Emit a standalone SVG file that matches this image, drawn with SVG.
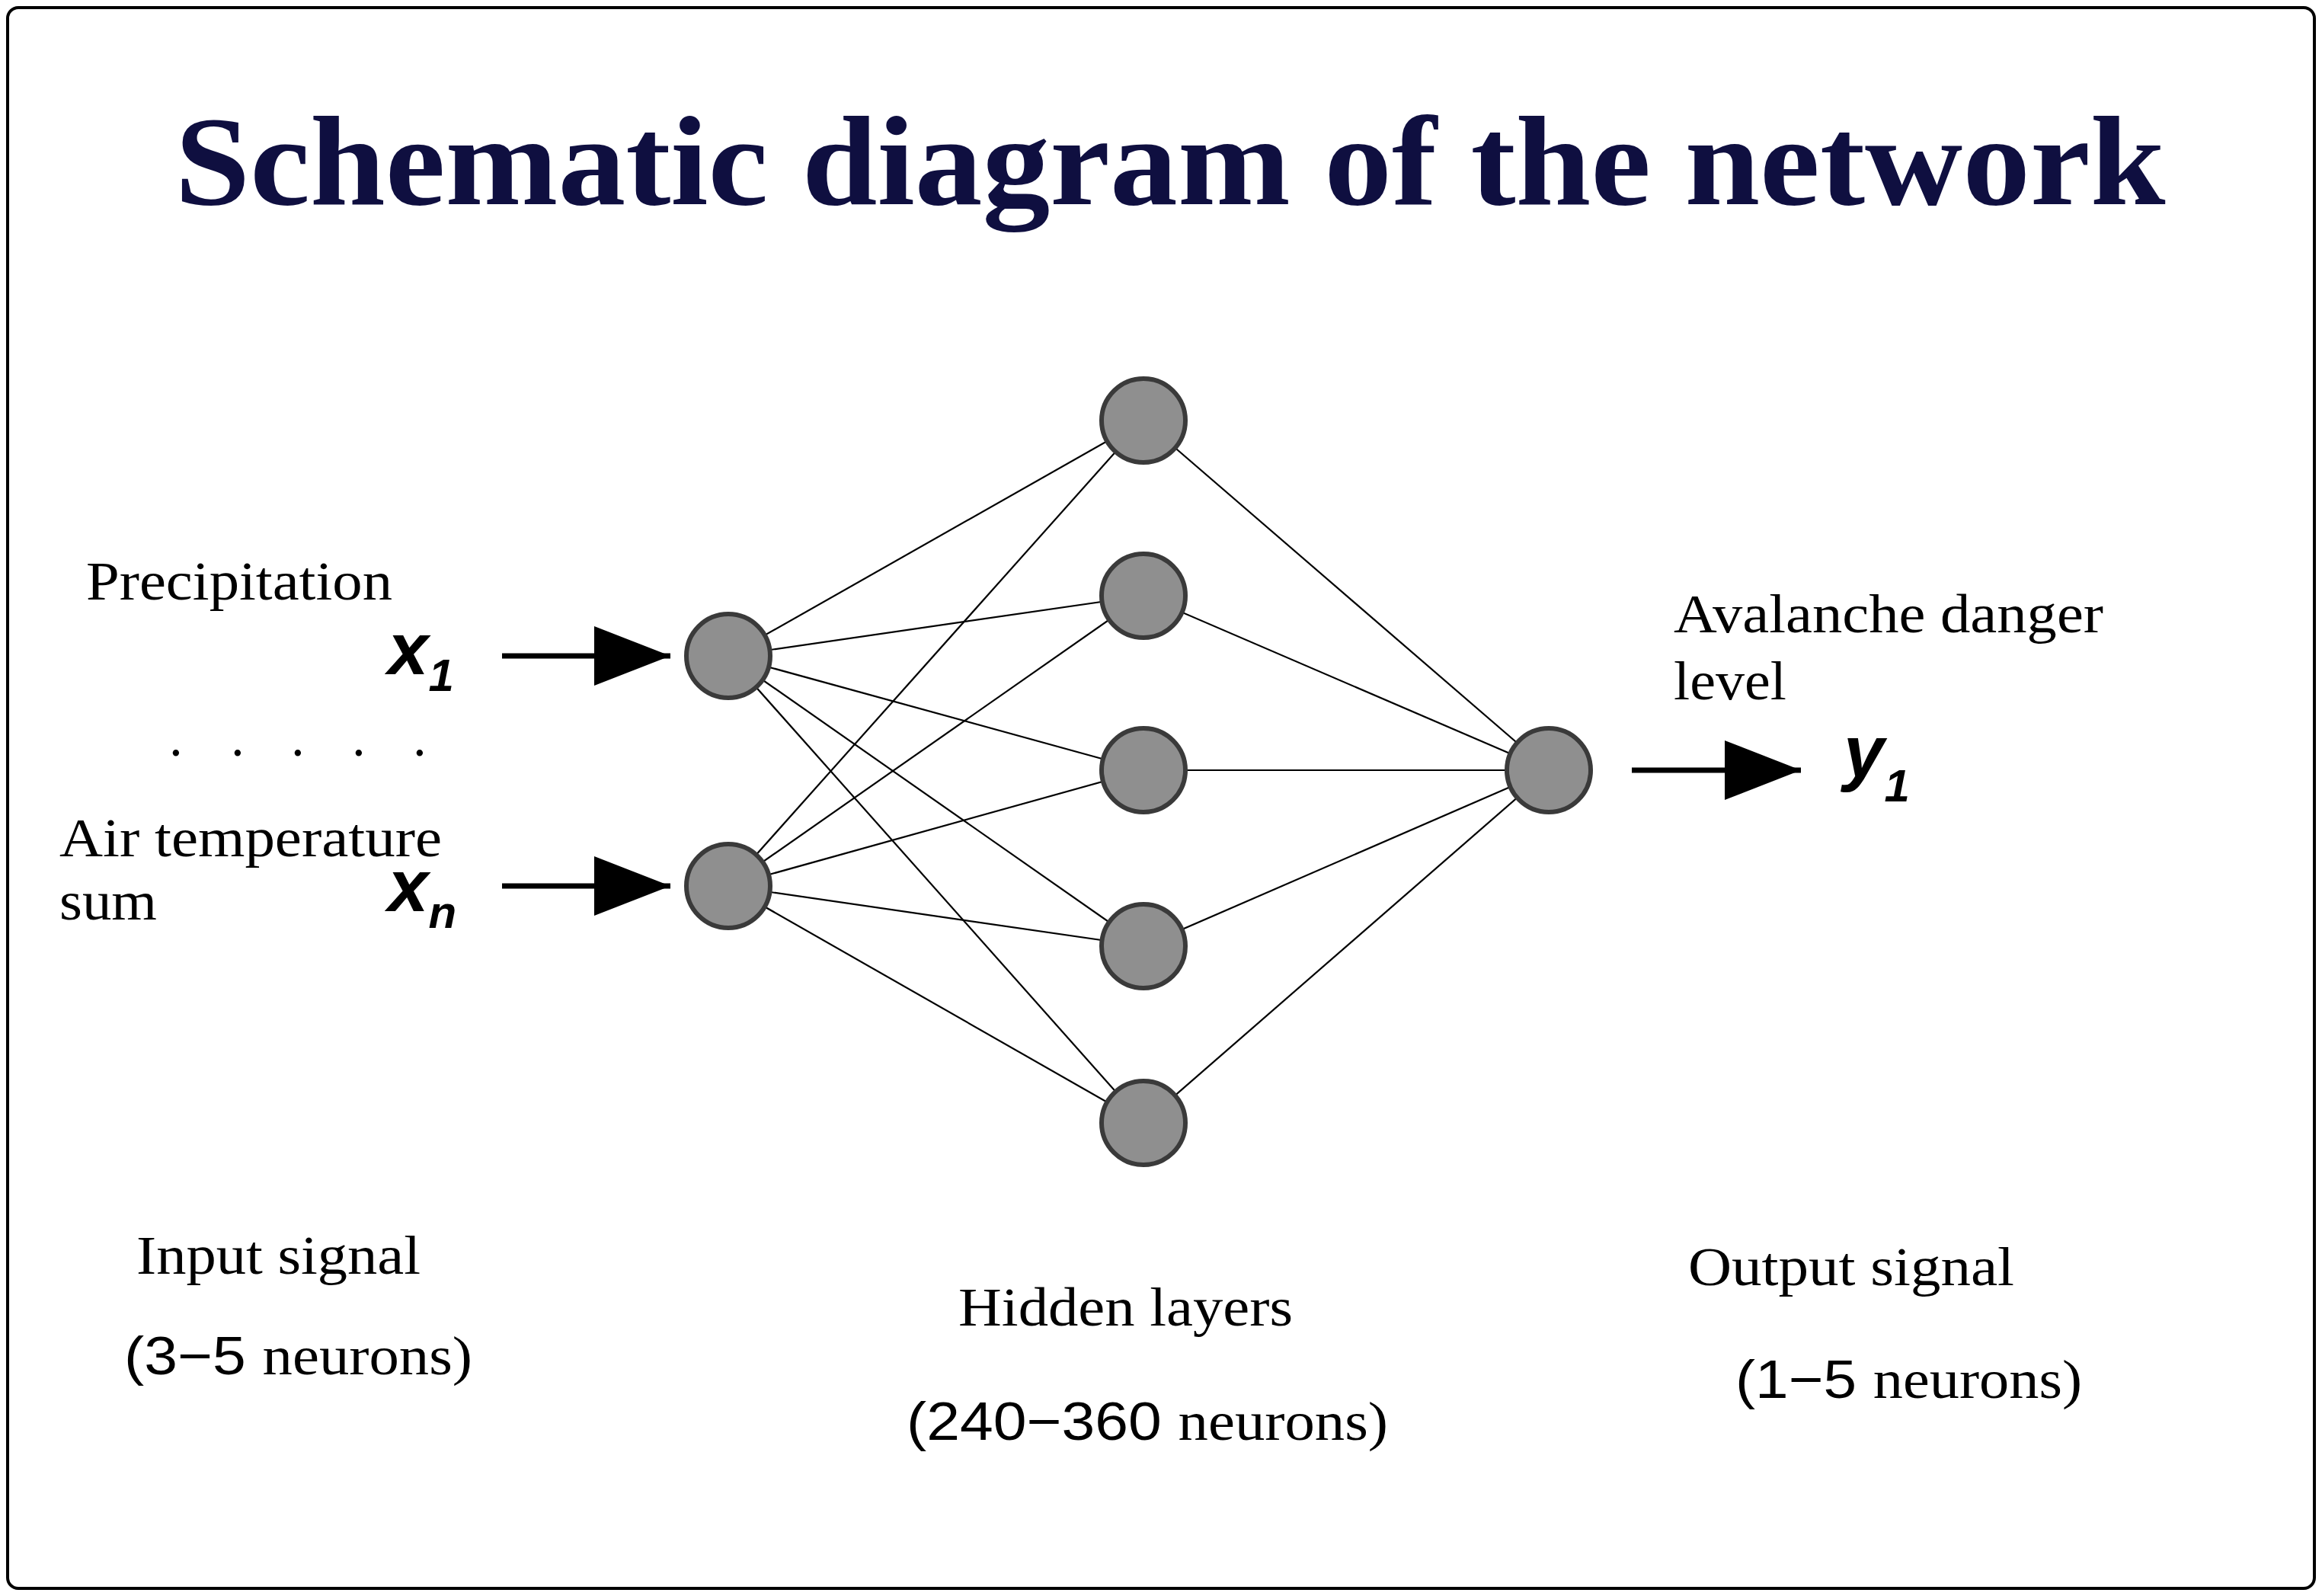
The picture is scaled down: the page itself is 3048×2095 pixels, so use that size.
<svg xmlns="http://www.w3.org/2000/svg" width="3048" height="2095" viewBox="0 0 3048 2095">
<style>
.n{fill:#8f8f8f;stroke:#3a3a3a;stroke-width:6}
.c line{stroke:#000;stroke-width:2.2}
.t{font-family:"Liberation Serif",serif;font-size:71px;fill:#000}
.v{font-family:"Liberation Sans",sans-serif;font-weight:bold;font-style:italic;font-size:96px}
.s{font-family:"Liberation Sans",sans-serif}
.a{stroke:#000;stroke-width:7;fill:none}
</style>
<defs><marker id="ah" markerWidth="100" markerHeight="78" refX="10" refY="5" orient="auto" markerUnits="userSpaceOnUse" viewBox="0 0 10 10" preserveAspectRatio="none"><path d="M0,0 L10,5 L0,10 z" fill="#000"/></marker></defs>
<rect x="10" y="10" width="3028" height="2075" rx="14" fill="#fff" stroke="#000" stroke-width="4"/>
<text x="1536" y="268" text-anchor="middle" font-family="Liberation Serif,serif" font-weight="bold" font-size="168" fill="#0f0f40" textLength="2613" lengthAdjust="spacingAndGlyphs">Schematic diagram of the network</text>
<g class="c" id="connectors">
<line x1="956" y1="861" x2="1501" y2="552"/><line x1="956" y1="861" x2="1501" y2="782"/><line x1="956" y1="861" x2="1501" y2="1011"/><line x1="956" y1="861" x2="1501" y2="1242"/><line x1="956" y1="861" x2="1501" y2="1474"/>
<line x1="956" y1="1163" x2="1501" y2="552"/><line x1="956" y1="1163" x2="1501" y2="782"/><line x1="956" y1="1163" x2="1501" y2="1011"/><line x1="956" y1="1163" x2="1501" y2="1242"/><line x1="956" y1="1163" x2="1501" y2="1474"/>
<line x1="1501" y1="552" x2="2033" y2="1011"/><line x1="1501" y1="782" x2="2033" y2="1011"/><line x1="1501" y1="1011" x2="2033" y2="1011"/><line x1="1501" y1="1242" x2="2033" y2="1011"/><line x1="1501" y1="1474" x2="2033" y2="1011"/>
<path d="M659,861 H880" class="a" marker-end="url(#ah)"/>
<path d="M659,1163 H880" class="a" marker-end="url(#ah)"/>
<path d="M2142,1011 H2364" class="a" marker-end="url(#ah)"/>
</g>
<g id="in1"><circle class="n" cx="956" cy="861" r="55"/></g>
<g id="in2"><circle class="n" cx="956" cy="1163" r="55"/></g>
<g id="h1"><circle class="n" cx="1501" cy="552" r="55"/></g>
<g id="h2"><circle class="n" cx="1501" cy="782" r="55"/></g>
<g id="h3"><circle class="n" cx="1501" cy="1011" r="55"/></g>
<g id="h4"><circle class="n" cx="1501" cy="1242" r="55"/></g>
<g id="h5"><circle class="n" cx="1501" cy="1474" r="55"/></g>
<g id="out"><circle class="n" cx="2033" cy="1011" r="55"/></g>
<g id="labels">
<text class="t" x="113" y="787" textLength="402" lengthAdjust="spacingAndGlyphs">Precipitation</text>
<text class="v" x="509" y="885">x<tspan font-size="60" dy="22">1</tspan></text>
<text class="t" x="222" y="992">.</text><text class="t" x="303" y="992">.</text><text class="t" x="382" y="992">.</text><text class="t" x="462" y="992">.</text><text class="t" x="542" y="992">.</text>
<text class="t" x="78" y="1124" textLength="502" lengthAdjust="spacingAndGlyphs">Air temperature</text>
<text class="t" x="78" y="1207" textLength="128" lengthAdjust="spacingAndGlyphs">sum</text>
<text class="v" x="509" y="1196">x<tspan font-size="60" dy="22">n</tspan></text>
<text class="t" x="2197" y="830" textLength="564" lengthAdjust="spacingAndGlyphs">Avalanche danger</text>
<text class="t" x="2197" y="918" textLength="148" lengthAdjust="spacingAndGlyphs">level</text>
<text class="v" x="2420" y="1020">y<tspan font-size="60" dy="32">1</tspan></text>
<text class="t" x="179" y="1672" textLength="373" lengthAdjust="spacingAndGlyphs">Input signal</text>
<text class="t" x="163" y="1804" textLength="457" lengthAdjust="spacingAndGlyphs"><tspan class="s">(3−5 </tspan>neurons)</text>
<text class="t" x="1258" y="1740" textLength="439" lengthAdjust="spacingAndGlyphs">Hidden layers</text>
<text class="t" x="1190" y="1890" textLength="632" lengthAdjust="spacingAndGlyphs"><tspan class="s">(240−360 </tspan>neurons)</text>
<text class="t" x="2216" y="1687" textLength="428" lengthAdjust="spacingAndGlyphs">Output signal</text>
<text class="t" x="2278" y="1835" textLength="455" lengthAdjust="spacingAndGlyphs"><tspan class="s">(1−5 </tspan>neurons)</text>
</g>
</svg>
